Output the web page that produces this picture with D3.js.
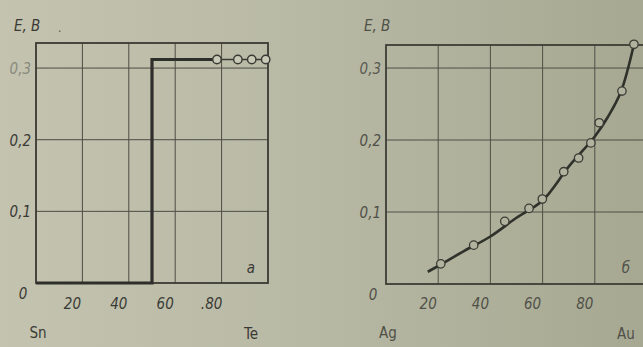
<!DOCTYPE html>
<html>
<head>
<meta charset="utf-8">
<script src="https://cdn.jsdelivr.net/npm/d3@7"></script>
<style>
  body { margin: 0; background: #b4b5a0; }
  svg text { font-family: "DejaVu Sans", sans-serif; font-stretch: condensed; }
  .tick-label { font-style: italic; font-size: 15px; }
</style>
</head>
<body>
<div id="chart"></div>
<script>
// panel a: Sn-Te
let stepX = [0, 50, 50, 78];
let stepY = [0, 0, 0.312, 0.312];
let circlesAX = [78, 87, 93, 99];
let circlesAY = [0.312, 0.312, 0.312, 0.312];

// panel b: Ag-Au
let pointsBX = [21, 33.6, 45.5, 54.8, 59.9, 68.1, 73.8, 78.5, 81.7, 90.4, 95];
let pointsBY = [0.028, 0.054, 0.087, 0.105, 0.118, 0.156, 0.175, 0.196, 0.224, 0.268, 0.333];
let curveBX = [16, 20, 30, 40, 50, 60, 70, 80, 85, 90, 95];
let curveBY = [0.017, 0.025, 0.046, 0.066, 0.092, 0.116, 0.163, 0.205, 0.232, 0.267, 0.333];

let xTicks = [20, 40, 60, 80];
let yTicks = [0.1, 0.2, 0.3];
let xTickLabelsA = ['20', '40', '60', '.80'];
let xTickLabelsB = ['20', '40', '60', '80'];
let yTickLabels = ['0,1', '0,2', '0,3'];

const W = 643, H = 347;
const svg = d3.select('#chart').append('svg').attr('width', W).attr('height', H);

const defs = svg.append('defs');
const grad = defs.append('linearGradient').attr('id', 'paper');
grad.append('stop').attr('offset', '0%').attr('stop-color', '#c3c3b0');
grad.append('stop').attr('offset', '45%').attr('stop-color', '#b9baa6');
grad.append('stop').attr('offset', '100%').attr('stop-color', '#a6a891');
svg.append('rect').attr('width', W).attr('height', H).attr('fill', 'url(#paper)');

function panel(opt) {
    const g = svg.append('g');
    const x = d3.scaleLinear().domain([0, 100]).range(opt.xr);
    const y = d3.scaleLinear().domain([0, opt.ymax]).range(opt.yr);

    // grid
    g.append('g').selectAll('line').data(xTicks).enter().append('line')
        .attr('x1', d => x(d)).attr('x2', d => x(d))
        .attr('y1', opt.yr[0]).attr('y2', opt.yr[1])
        .attr('stroke', opt.grid).attr('stroke-width', 1);
    g.append('g').selectAll('line').data(yTicks).enter().append('line')
        .attr('x1', opt.xr[0]).attr('x2', opt.xr[1])
        .attr('y1', d => y(d)).attr('y2', d => y(d))
        .attr('stroke', opt.grid).attr('stroke-width', 1);

    // frame
    g.append('rect')
        .attr('x', opt.xr[0]).attr('y', opt.yr[1])
        .attr('width', opt.xr[1] - opt.xr[0]).attr('height', opt.yr[0] - opt.yr[1])
        .attr('fill', 'none').attr('stroke', opt.frame).attr('stroke-width', 1.8);

    // tick labels
    g.append('g').selectAll('text').data(xTicks).enter().append('text')
        .attr('class', 'tick-label')
        .attr('x', (d, i) => x(d) - 10).attr('y', 309)
        .attr('text-anchor', 'middle').attr('fill', opt.text)
        .text((d, i) => opt.xLabels[i]);
    g.append('g').selectAll('text').data(yTicks).enter().append('text')
        .attr('class', 'tick-label')
        .attr('x', opt.xr[0] - 5).attr('y', d => y(d) + 6)
        .attr('text-anchor', 'end').attr('fill', (d, i) => i == 2 ? opt.text3 : opt.text)
        .text((d, i) => yTickLabels[i]);
    g.append('text').attr('class', 'tick-label')
        .attr('x', opt.xr[0] - 13).attr('y', opt.yr[0] + 16)
        .attr('text-anchor', 'middle').attr('fill', opt.text).text('0');

    g.append('text').attr('class', 'tick-label')
        .attr('x', opt.xr[0] - 22).attr('y', 31).attr('fill', opt.text).text('E, B');

    g.append('text').attr('x', opt.xr[0] + 2).attr('y', 338)
        .attr('font-size', 15).attr('text-anchor', 'middle').attr('fill', opt.text).text(opt.left);
    g.append('text').attr('x', opt.rightX).attr('y', 339)
        .attr('font-size', 15).attr('text-anchor', 'middle').attr('fill', opt.text).text(opt.right);
    g.append('text').attr('class', 'tick-label').attr('x', opt.rightX).attr('y', 273)
        .attr('font-size', 18).attr('text-anchor', 'middle').attr('fill', opt.text).text(opt.letter);

    return {g, x, y};
}

const a = panel({
    xr: [36, 268], yr: [283, 43], ymax: 0.335,
    grid: '#4c4c44', frame: '#3a3a34', text: '#3a3a35', text3: '#8a8a7e',
    xLabels: xTickLabelsA, left: 'Sn', right: 'Te', rightX: 251, letter: 'a'
});

const stepData = stepX.map((d, i) => [d, stepY[i]]);
a.g.append('path').datum(stepData)
    .attr('d', d3.line().x(d => a.x(d[0])).y(d => a.y(d[1])))
    .attr('fill', 'none').attr('stroke', '#2e2e2a').attr('stroke-width', 3.2);
const circA = circlesAX.map((d, i) => [d, circlesAY[i]]);
a.g.append('path').datum(circA)
    .attr('d', d3.line().x(d => a.x(d[0])).y(d => a.y(d[1])))
    .attr('fill', 'none').attr('stroke', '#3a3a34').attr('stroke-width', 1.5);
a.g.selectAll('circle').data(circA).enter().append('circle')
    .attr('cx', d => a.x(d[0])).attr('cy', d => a.y(d[1])).attr('r', 4.2)
    .attr('fill', '#c9c9b8').attr('stroke', '#3a3a34').attr('stroke-width', 1.4);
a.g.append('text').attr('x', 58).attr('y', 32).attr('fill', '#55554c').attr('font-size', 12).text('.');

const b = panel({
    xr: [386, 647], yr: [284, 45], ymax: 0.332,
    grid: '#4e5046', frame: '#3c3e36', text: '#505048', text3: '#5a5a52',
    xLabels: xTickLabelsB, left: 'Ag', right: 'Au', rightX: 626, letter: 'б'
});

const curveB = curveBX.map((d, i) => [d, curveBY[i]]);
b.g.append('path').datum(curveB)
    .attr('d', d3.line().curve(d3.curveCatmullRom).x(d => b.x(d[0])).y(d => b.y(d[1])))
    .attr('fill', 'none').attr('stroke', '#2f312b').attr('stroke-width', 2.6);
const ptsB = pointsBX.map((d, i) => [d, pointsBY[i]]);
b.g.selectAll('circle').data(ptsB).enter().append('circle')
    .attr('cx', d => b.x(d[0])).attr('cy', d => b.y(d[1])).attr('r', 4.2)
    .attr('fill', '#b2b39f').attr('stroke', '#3a3c34').attr('stroke-width', 1.3);
</script>
</body>
</html>
